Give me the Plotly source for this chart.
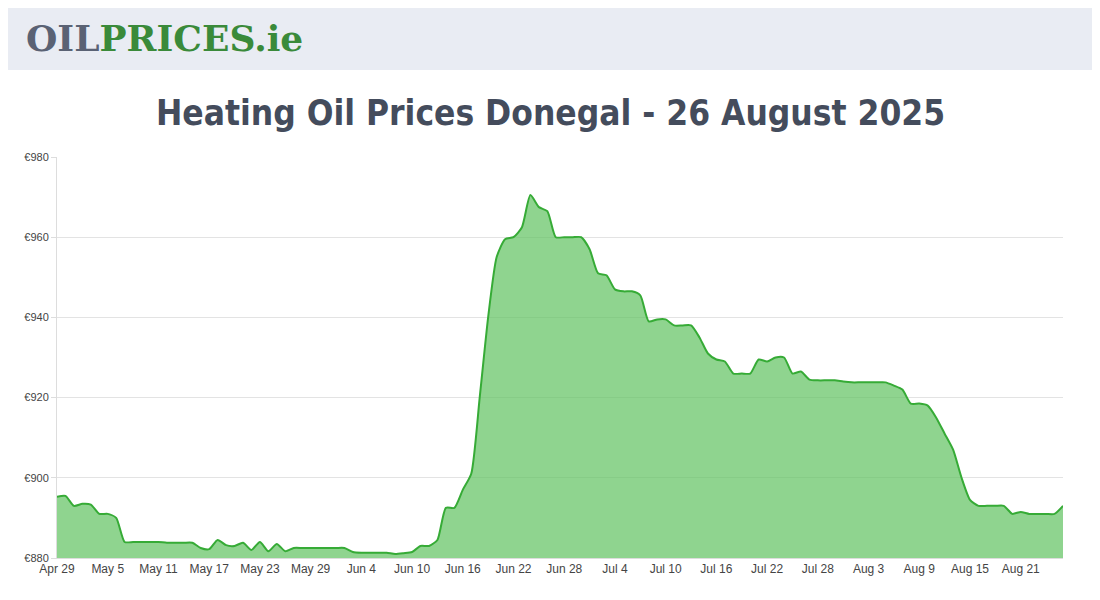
import plotly.graph_objects as go
import pandas as pd

start = "2025-04-29"
prices = [895.3, 895.5, 893, 893.5, 893.3, 891, 891, 890, 884, 884,
          884, 884, 884, 883.8, 883.8, 883.8, 883.8, 882.5, 882.2, 884.5,
          883.2, 883, 883.8, 882, 884, 881.7, 883.5, 881.7, 882.5, 882.5,
          882.5, 882.5, 882.5, 882.5, 882.5, 881.5, 881.3, 881.3, 881.3, 881.3,
          881, 881.2, 881.5, 883, 883, 884.5, 892.5, 892.5, 897, 901,
          920, 940, 955, 959.5, 960, 962.5, 970.5, 967.5, 966.5, 960,
          960, 960, 960, 957, 951, 950.5, 947, 946.5, 946.5, 945.5,
          939, 939.5, 939.5, 938, 938, 938, 935, 931, 929.5, 929,
          926, 926, 926, 929.5, 929, 930, 930, 926, 926.5, 924.5,
          924.3, 924.3, 924.3, 924, 923.8, 923.8, 923.8, 923.8, 923.8, 923,
          922, 918.5, 918.5, 918, 915, 911, 907, 900, 894.5, 893,
          893, 893, 893, 891, 891.5, 891, 891, 891, 891, 893]
dates = pd.date_range(start, periods=len(prices), freq="D")
tick_dates = dates[::6]
tick_labels = [d.strftime("%b ") + str(d.day) for d in tick_dates]
y_ticks = [880, 900, 920, 940, 960, 980]
y_labels = ["€" + str(v) for v in y_ticks]

OFF = 8
L, R, T, B = 57 - OFF, 45, 157 - OFF, 50
W, H = 1100, 600

fig = go.Figure(go.Scatter(
    x=dates, y=prices, mode="lines", line=dict(color="#36ab36", width=2, shape="spline", smoothing=0.6),
    fill="tozeroy", fillcolor="rgba(100,196,100,0.72)", hoverinfo="x+y"))

plot_h = H - T - B
plot_w = W - L - R
def px(xp): return (xp - OFF - L) / plot_w
def py(yp): return (H - B - (yp - OFF)) / plot_h

fig.update_layout(
    width=W, height=H, margin=dict(l=L, r=R, t=T, b=B),
    paper_bgcolor="white", plot_bgcolor="white", showlegend=False,
    shapes=[dict(type="rect", xref="paper", yref="paper", x0=px(0), x1=px(1110),
                 y0=py(70), y1=py(0), fillcolor="#e9ecf3", line=dict(width=0), layer="below")])
fig.add_annotation(text="<b>OIL<span style='color:#3a8a3a'>PRICES.ie</span></b>",
                   x=px(24), y=py(38), xref="paper", yref="paper", xanchor="left", yanchor="middle",
                   showarrow=False, font=dict(family="DejaVu Serif", size=36, color="#5a6274"))
fig.add_annotation(text="<b>Heating Oil Prices Donegal - 26 August 2025</b>",
                   x=px(550), y=py(113), xref="paper", yref="paper", xanchor="center", yanchor="middle",
                   showarrow=False, font=dict(family="DejaVu Sans Condensed", size=35, color="#444c5c"))
fig.update_xaxes(range=[dates[0], dates[-1]], tickvals=tick_dates, ticktext=tick_labels,
                 showgrid=False, showline=True, linecolor="#dddddd", ticks="",
                 tickfont=dict(family="Arial", size=12, color="#444"))
fig.update_yaxes(range=[880, 980], tickvals=y_ticks, ticktext=y_labels, showgrid=True,
                 gridcolor="#e3e3e3", zeroline=False, showline=True, linecolor="#dddddd",
                 ticks="outside", ticklen=5, tickcolor="#dddddd",
                 tickfont=dict(family="Arial", size=11, color="#444"))
fig.write_html("out.html")
